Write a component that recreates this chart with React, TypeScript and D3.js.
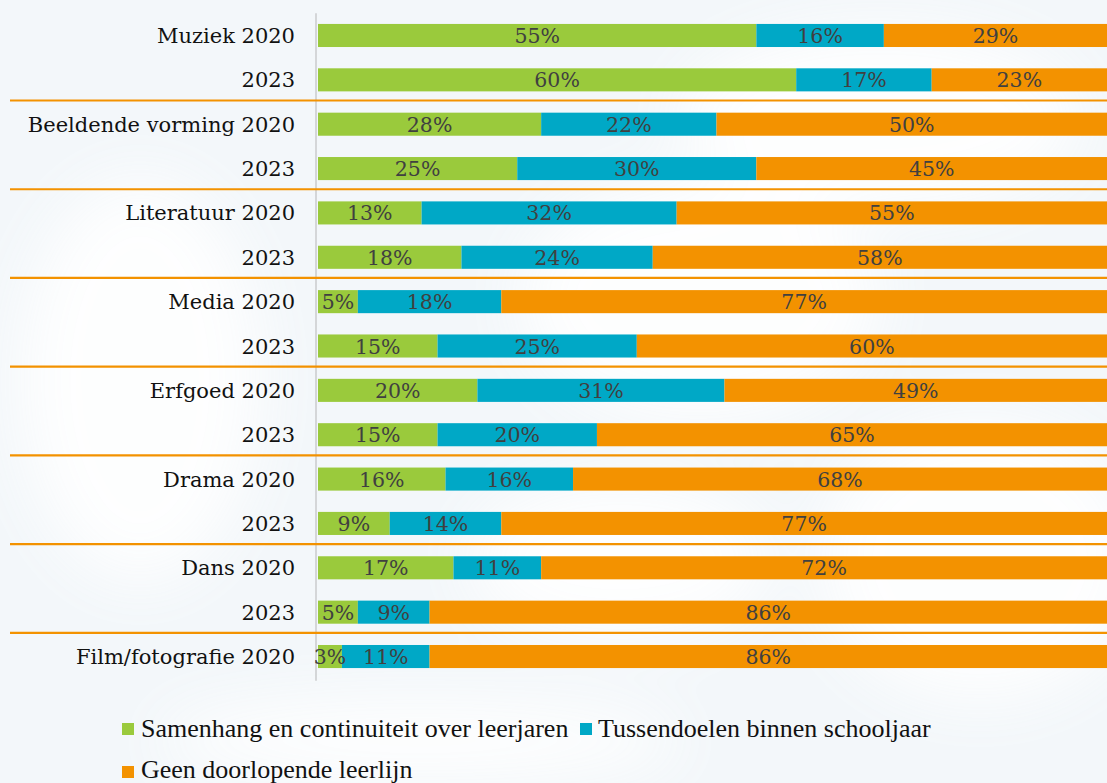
import * as d3 from "d3";

const rows = [
  "Muziek 2020",
  "2023",
  "Beeldende vorming 2020",
  "2023",
  "Literatuur 2020",
  "2023",
  "Media 2020",
  "2023",
  "Erfgoed 2020",
  "2023",
  "Drama 2020",
  "2023",
  "Dans 2020",
  "2023",
  "Film/fotografie 2020",
];

const samenhang = [55, 60, 28, 25, 13, 18, 5, 15, 20, 15, 16, 9, 17, 5, 3];
const tussendoelen = [16, 17, 22, 30, 32, 24, 18, 25, 31, 20, 16, 14, 11, 9, 11];
const geen = [29, 23, 50, 45, 55, 58, 77, 60, 49, 65, 68, 77, 72, 86, 86];

const seriesNames = [
  "Samenhang en continuiteit over leerjaren",
  "Tussendoelen binnen schooljaar",
  "Geen doorlopende leerlijn",
];
const colors = ["#9aca3c", "#00a8c6", "#f39200"];

const W = 1107;
const H = 783;
const labelFont = "'DejaVu Serif', serif";
const legendFont = "'Liberation Serif', serif";

export default function App() {
  const keys = rows.map((_, i) => String(i));
  const table = rows.map((r, i) => ({
    key: String(i),
    s0: samenhang[i],
    s1: tussendoelen[i],
    s2: geen[i],
  }));
  const stack = d3.stack<any>().keys(["s0", "s1", "s2"])(table);

  const x = d3.scaleLinear().domain([0, 100]).range([318, 1115]);
  const y = d3
    .scaleBand()
    .domain(keys)
    .range([13.3, 13.3 + 15 * 44.36])
    .paddingInner(0.48)
    .paddingOuter(0.24);
  const bh = y.bandwidth();
  const step = y.step();

  // separators after each 2023 row
  const seps = keys.filter((k, i) => i % 2 === 1);

  return (
    <svg
      width={W}
      height={H}
      style={{ position: "absolute", left: 0, top: 0 }}
    >
      <defs>
        <filter id="blur" x="-50%" y="-50%" width="200%" height="200%">
          <feGaussianBlur stdDeviation="30" />
        </filter>
      </defs>
      <rect width={W} height={H} fill="#f3f7fa" />
      <g filter="url(#blur)" fill="#ffffff" opacity={0.9}>
        <ellipse cx={880} cy={120} rx={200} ry={90} />
        <ellipse cx={700} cy={300} rx={180} ry={120} />
        <ellipse cx={980} cy={560} rx={160} ry={140} />
        <ellipse cx={620} cy={560} rx={150} ry={80} />
        <ellipse cx={140} cy={380} rx={120} ry={200} />
        <ellipse cx={420} cy={740} rx={260} ry={40} />
      </g>

      {/* axis line */}
      <line
        x1={316}
        x2={316}
        y1={y.range()[0]}
        y2={y.range()[1] + 2}
        stroke="#d4d6d8"
        strokeWidth={2}
      />

      {/* separators */}
      {seps.map((k) => {
        const yy = (y(k) as number) + bh + (step - bh) / 2 - 1.5;
        return (
          <line
            key={"sep" + k}
            x1={10}
            x2={W}
            y1={yy}
            y2={yy}
            stroke="#f39200"
            strokeWidth={2.2}
          />
        );
      })}

      {/* bars */}
      {stack.map((layer, si) => (
        <g key={"layer" + si} fill={colors[si]}>
          {layer.map((d: any) => (
            <rect
              key={d.data.key}
              x={x(d[0])}
              y={y(d.data.key)}
              width={x(d[1]) - x(d[0])}
              height={bh}
            />
          ))}
        </g>
      ))}

      {/* value labels */}
      {stack.map((layer, si) => (
        <g
          key={"lab" + si}
          fill="#404040"
          fontSize={20.5}
          fontFamily={labelFont}
          textAnchor="middle"
        >
          {layer.map((d: any) => (
            <text
              key={d.data.key}
              x={(x(d[0]) + Math.min(x(d[1]), W)) / 2}
              y={(y(d.data.key) as number) + bh / 2 + 7.5}
            >
              {d[1] - d[0]}%
            </text>
          ))}
        </g>
      ))}

      {/* row labels */}
      <g fill="#111111" fontSize={21} fontFamily={labelFont} textAnchor="end">
        {rows.map((r, i) => (
          <text key={"row" + i} x={295} y={(y(String(i)) as number) + bh / 2 + 7.5}>
            {r}
          </text>
        ))}
      </g>

      {/* legend */}
      <g fontSize={26} fill="#111111" fontFamily={legendFont}>
        <rect x={122} y={723} width={12} height={12} fill={colors[0]} />
        <text x={141} y={737}>
          {seriesNames[0]}
        </text>
        <rect x={580} y={723} width={12} height={12} fill={colors[1]} />
        <text x={598} y={737}>
          {seriesNames[1]}
        </text>
        <rect x={122} y={766} width={12} height={12} fill={colors[2]} />
        <text x={141} y={778}>
          {seriesNames[2]}
        </text>
      </g>
    </svg>
  );
}
